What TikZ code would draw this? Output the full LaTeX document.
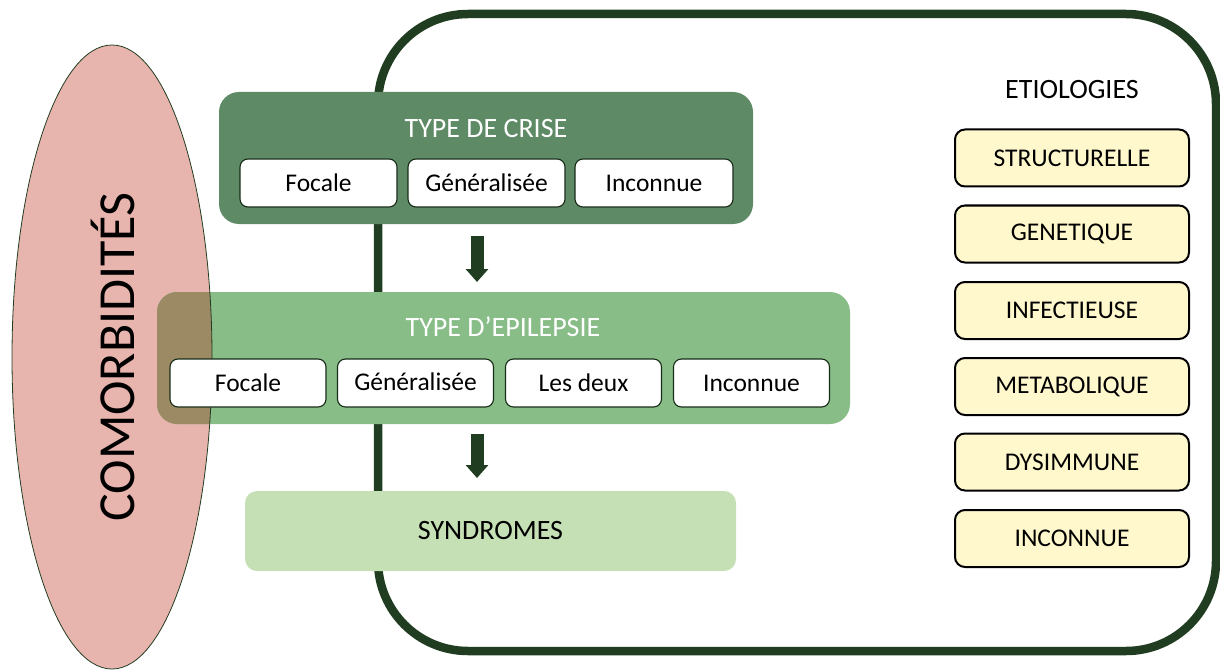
\documentclass[tikz,border=0pt]{standalone}
\usepackage{fontspec}
\setmainfont{Carlito}
\usetikzlibrary{arrows.meta,shapes.geometric}
\definecolor{darkg}{HTML}{213D21}
\definecolor{crise}{HTML}{5E8B66}
\definecolor{epil}{HTML}{88BD88}
\definecolor{synd}{HTML}{C5E0B4}
\definecolor{pinkc}{HTML}{E8B4AE}
\definecolor{overl}{HTML}{9B8A64}
\definecolor{etio}{HTML}{FFF8CC}
\tikzset{
  bigbox/.style={rectangle, rounded corners=20pt, inner sep=0pt, outer sep=0pt, draw=none},
  subbox/.style={rectangle, rounded corners=8pt, fill=white, draw=darkg!70!black, line width=1.1pt,
    minimum width=156pt, minimum height=48pt, inner sep=0pt, outer sep=0pt, font=\fontsize{25.5}{30}\selectfont},
  etiobox/.style={rectangle, rounded corners=10pt, fill=etio, draw=black, line width=2pt,
    minimum width=234pt, minimum height=57pt, inner sep=0pt, outer sep=0pt, font=\fontsize{25.5}{30}\selectfont},
  title/.style={font=\fontsize{28}{34}\selectfont, inner sep=0pt},
  bigarrow/.style={draw=darkg, line width=13pt, -{Triangle[length=13pt 0 0,width=22pt 0 0]}},
}
\begin{document}
\begin{tikzpicture}[x=1pt,y=-1pt]
\useasboundingbox (0,0) rectangle (1220,671);
% comorbidities ellipse
\node[ellipse, fill=pinkc, draw=darkg, line width=0.8pt, minimum width=200pt, minimum height=624pt, inner sep=0pt] (como) at (112,357) {};
% outer frame
\node[rectangle, rounded corners=90pt, draw=darkg, line width=8.5pt, minimum width=838pt, minimum height=637pt, inner sep=0pt] (frame) at (797,332.5) {};
% type de crise
\node[bigbox, fill=crise, minimum width=534pt, minimum height=132pt] (crise) at (486,158) {};
\node[title, text=white] (criset) at (486,129) {TYPE DE CRISE};
% type d'epilepsie
\node[bigbox, fill=epil, minimum width=693pt, minimum height=132pt] (epil) at (503.5,358) {};
\begin{scope}
  \clip (como.center) ellipse [x radius=100pt, y radius=312pt];
  \fill[overl, rounded corners=20pt] (epil.north west) rectangle (epil.south east);
\end{scope}
\begin{scope}
  \clip[rounded corners=20pt] (epil.north west) rectangle (epil.south east);
  \draw[darkg, line width=0.8pt] (como.center) ellipse [x radius=100pt, y radius=312pt];
\end{scope}
\node[title, text=white] (epilt) at (503,327) {TYPE D’EPILEPSIE};
% sub boxes
\node[subbox, minimum width=157pt] (c1) at (318.5,183) {Focale};
\node[subbox, minimum width=157pt] (c2) at (486.5,183) {Généralisée};
\node[subbox, minimum width=158pt] (c3) at (654,183) {Inconnue};
\node[subbox] (e1) at (248,383) {Focale};
\node[subbox] (e2) at (415.5,383) {\raisebox{2pt}{Généralisée}};
\node[subbox] (e3) at (583.5,383) {Les deux};
\node[subbox] (e4) at (751.5,383) {Inconnue};
% syndromes
\node[bigbox, rounded corners=12pt, fill=synd, minimum width=491pt, minimum height=80pt, title] (synd) at (490.5,531) {SYNDROMES};
% arrows
\coordinate (a1s) at (477,236);
\coordinate (a1e) at (477,282);
\coordinate (a2s) at (477,434);
\coordinate (a2e) at (477,478);
\draw[bigarrow] (a1s) -- (a1e);
\draw[bigarrow] (a2s) -- (a2e);
% etiologies
\node[title] (etiot) at (1072,90) {ETIOLOGIES};
\node[etiobox] (s1) at (1072,158) {STRUCTURELLE};
\node[etiobox] (s2) at (1072,234) {GENETIQUE};
\node[etiobox] (s3) at (1072,310.5) {INFECTIEUSE};
\node[etiobox] (s4) at (1072,386.5) {METABOLIQUE};
\node[etiobox] (s5) at (1072,462) {DYSIMMUNE};
\node[etiobox] (s6) at (1072,538.5) {INCONNUE};
% comorbidites label
\node[rotate=90, font=\fontsize{52}{60}\selectfont, inner sep=0pt] (comot) at (113,357) {COMORBIDITÉS};
\end{tikzpicture}
\end{document}
